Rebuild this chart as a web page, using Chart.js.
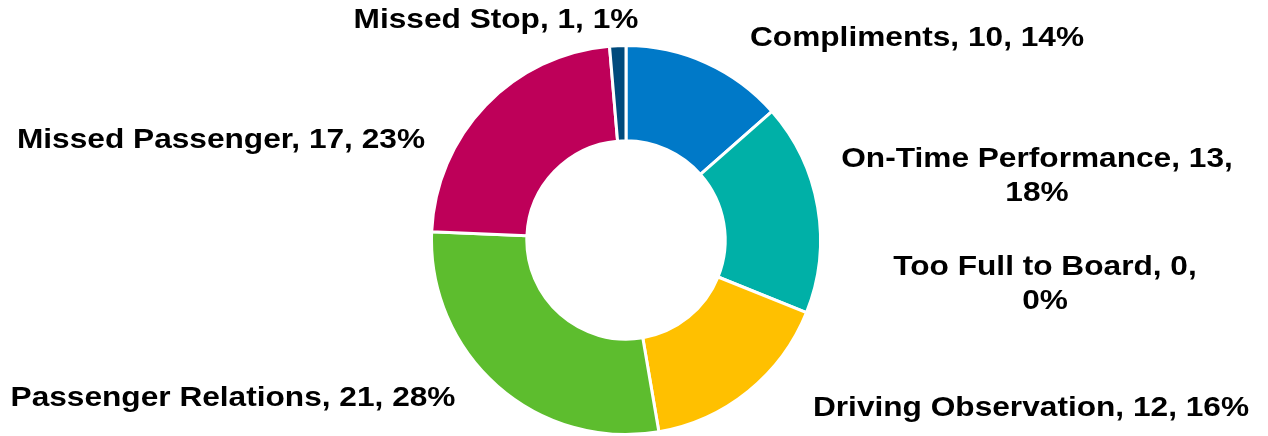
<!DOCTYPE html>
<html>
<head>
<meta charset="utf-8">
<script src="https://cdn.jsdelivr.net/npm/chart.js@4"></script>
<style>
  html, body { margin: 0; padding: 0; background: #fff; }
  #wrap { width: 1268px; height: 436px; position: relative; }
</style>
</head>
<body>
<div id="wrap"><canvas id="chart"></canvas></div>
<script>
const categories = [
  'Compliments',
  'On-Time Performance',
  'Too Full to Board',
  'Driving Observation',
  'Passenger Relations',
  'Missed Passenger',
  'Missed Stop'
];
const counts = [10, 13, 0, 12, 21, 17, 1];
const percents = ['14%', '18%', '0%', '16%', '28%', '23%', '1%'];
const colors = ['#0079C8', '#00B0A7', '#FFC000', '#FFC000', '#5DBD2E', '#BE0059', '#004A7C'];

// where each data label sits (centre x, first line y), and how it wraps
const labelLayout = [
  { x: 917, y: 38, wrap: false },
  { x: 1037, y: 159, wrap: true },
  { x: 1045, y: 267, wrap: true },
  { x: 1031, y: 408, wrap: false },
  { x: 233, y: 398, wrap: false },
  { x: 221, y: 140, wrap: false },
  { x: 496, y: 20, wrap: false }
];

const dataLabels = {
  id: 'dataLabels',
  afterDatasetsDraw(chart) {
    const ctx = chart.ctx;
    const stretch = 1.13;
    ctx.save();
    ctx.font = 'bold 28px "Liberation Sans", Arial, sans-serif';
    ctx.fillStyle = '#000';
    ctx.textAlign = 'center';
    ctx.textBaseline = 'middle';
    labelLayout.forEach((l, i) => {
      const lines = l.wrap
        ? [`${categories[i]}, ${counts[i]},`, percents[i]]
        : [`${categories[i]}, ${counts[i]}, ${percents[i]}`];
      lines.forEach((t, k) => {
        ctx.save();
        ctx.translate(l.x, l.y + k * 34);
        ctx.scale(stretch, 1);
        ctx.fillText(t, 0, 0);
        ctx.restore();
      });
    });
    ctx.restore();
  }
};

new Chart(document.getElementById('chart'), {
  type: 'doughnut',
  data: {
    labels: categories,
    datasets: [{
      data: counts,
      backgroundColor: colors,
      borderColor: '#ffffff',
      borderWidth: 3,
      hoverOffset: 0
    }]
  },
  options: {
    responsive: true,
    maintainAspectRatio: false,
    animation: false,
    cutout: '51%',
    layout: { padding: { top: 44, bottom: 0, left: 430, right: 446 } },
    plugins: {
      legend: { display: false },
      tooltip: { enabled: false }
    }
  },
  plugins: [dataLabels]
});
</script>
</body>
</html>
